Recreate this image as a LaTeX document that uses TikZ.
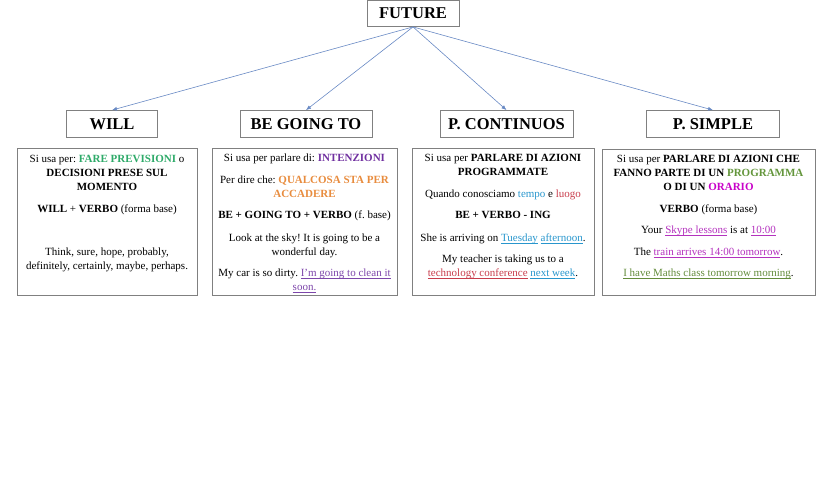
\documentclass[tikz,border=0pt]{standalone}
\usepackage{fontspec}
\setmainfont{Liberation Serif}
\usepackage{tikz}
\usetikzlibrary{arrows.meta,positioning}

\definecolor{boxgray}{RGB}{128,128,128}
\definecolor{arrowblue}{RGB}{105,138,196}
\definecolor{prevgreen}{RGB}{46,170,105}
\definecolor{intpurple}{RGB}{112,48,160}
\definecolor{accorange}{RGB}{232,140,62}
\definecolor{cleanpurple}{RGB}{125,70,170}
\definecolor{tempoblue}{RGB}{40,150,205}
\definecolor{luogored}{RGB}{200,60,75}
\definecolor{progreen}{RGB}{100,150,60}
\definecolor{orariomag}{RGB}{200,0,200}
\definecolor{skypemag}{RGB}{180,50,190}
\definecolor{mathsgreen}{RGB}{100,140,60}

% underlined, coloured text (rule just under the baseline)
\newcommand{\undl}[2]{\textcolor{#1}{\setbox0\hbox{#2}\rlap{\rule[-1.6pt]{\wd0}{0.5pt}}\box0}}
% bold heading text
\newcommand{\headtxt}[1]{\textbf{#1}}
\frenchspacing

\begin{document}
\begin{tikzpicture}[x=1pt,y=-1pt,
    titlebox/.style={draw=boxgray,line width=0.8pt,inner sep=0pt,
      font=\fontsize{16.5}{18}\selectfont},
    infobox/.style={draw=boxgray,line width=0.8pt,inner sep=0pt},
    infotext/.style={anchor=north,inner sep=0pt,align=center,
      font=\fontsize{11}{14}\selectfont},
    branch/.style={-{Latex[length=5pt,width=4pt]},draw=arrowblue,line width=0.6pt}]
        \useasboundingbox (0,0) rectangle (840,480);

        % root and the four tenses
        \node[titlebox,minimum width=92pt,minimum height=26pt] (future) at (413,13.5) {\headtxt{FUTURE}};

        \node[titlebox,minimum width=91pt,minimum height=27pt] (will) at (112,124) {\headtxt{WILL}};
        \node[titlebox,minimum width=132pt,minimum height=27pt] (going) at (306,124) {\headtxt{BE GOING TO}};
        \node[titlebox,minimum width=133pt,minimum height=27pt] (pcont) at (506.5,124) {\headtxt{P. CONTINUOS}};
        \node[titlebox,minimum width=133pt,minimum height=27pt] (psimple) at (713,124) {\headtxt{P. SIMPLE}};

        \draw[branch] (future.south) -- (will.north);
        \draw[branch] (future.south) -- (going.north);
        \draw[branch] (future.south) -- (pcont.north);
        \draw[branch] (future.south) -- (psimple.north);

        % info boxes
        \node[infobox,minimum width=180pt,minimum height=147pt] (willinfo) at (107,221.5) {};
        \node[infobox,minimum width=185pt,minimum height=147pt] (goinginfo) at (304.5,221.5) {};
        \node[infobox,minimum width=182pt,minimum height=147pt] (pcontinfo) at (503,221.5) {};
        \node[infobox,minimum width=213pt,minimum height=146pt] (psimpleinfo) at (708.5,222) {};

        \node[infotext] (willtext) at (107,155) {Si usa per: \textbf{\textcolor{prevgreen}{FARE PREVISIONI}} o\\
          \textbf{DECISIONI PRESE SUL}\\ \textbf{MOMENTO}\\[8pt]
          \textbf{WILL} + \textbf{VERBO} (forma base)\\[29pt]
          Think, sure, hope, probably,\\ definitely, certainly, maybe, perhaps.};

        \node[infotext] (goingtext) at (304.5,154) {Si usa per parlare di: \textbf{\textcolor{intpurple}{INTENZIONI}}\\[8pt]
          Per dire che: \textbf{\textcolor{accorange}{QUALCOSA STA PER}}\\ \textbf{\textcolor{accorange}{ACCADERE}}\\[7pt]
          \textbf{BE + GOING TO + VERBO} (f. base)\\[9pt]
          Look at the sky! It is going to be a\\ wonderful day.\\[7pt]
          My car is so dirty. \undl{cleanpurple}{I'm going to clean it}\\ \undl{cleanpurple}{soon.}};

        \node[infotext] (pconttext) at (503,154) {Si usa per \textbf{PARLARE DI AZIONI}\\ \textbf{PROGRAMMATE}\\[8pt]
          Quando conosciamo \textcolor{tempoblue}{tempo} e \textcolor{luogored}{luogo}\\[7pt]
          \textbf{BE + VERBO - ING}\\[9pt]
          She is arriving on \undl{tempoblue}{Tuesday} \undl{tempoblue}{afternoon}.\\[7pt]
          My teacher is taking us to a\\ \undl{luogored}{technology conference} \undl{tempoblue}{next week}.};

        \node[infotext] (psimpletext) at (708.5,155) {Si usa per \textbf{PARLARE DI AZIONI CHE}\\
          \textbf{FANNO PARTE DI UN \textcolor{progreen}{PROGRAMMA}}\\ \textbf{O DI UN \textcolor{orariomag}{ORARIO}}\\[8pt]
          \textbf{VERBO} (forma base)\\[7pt]
          Your \undl{skypemag}{Skype lessons} is at \undl{skypemag}{10:00}\\[8pt]
          The \undl{skypemag}{train arrives 14:00 tomorrow}.\\[7pt]
          \undl{mathsgreen}{I have Maths class tomorrow morning}.};

      \end{tikzpicture}
\end{document}
